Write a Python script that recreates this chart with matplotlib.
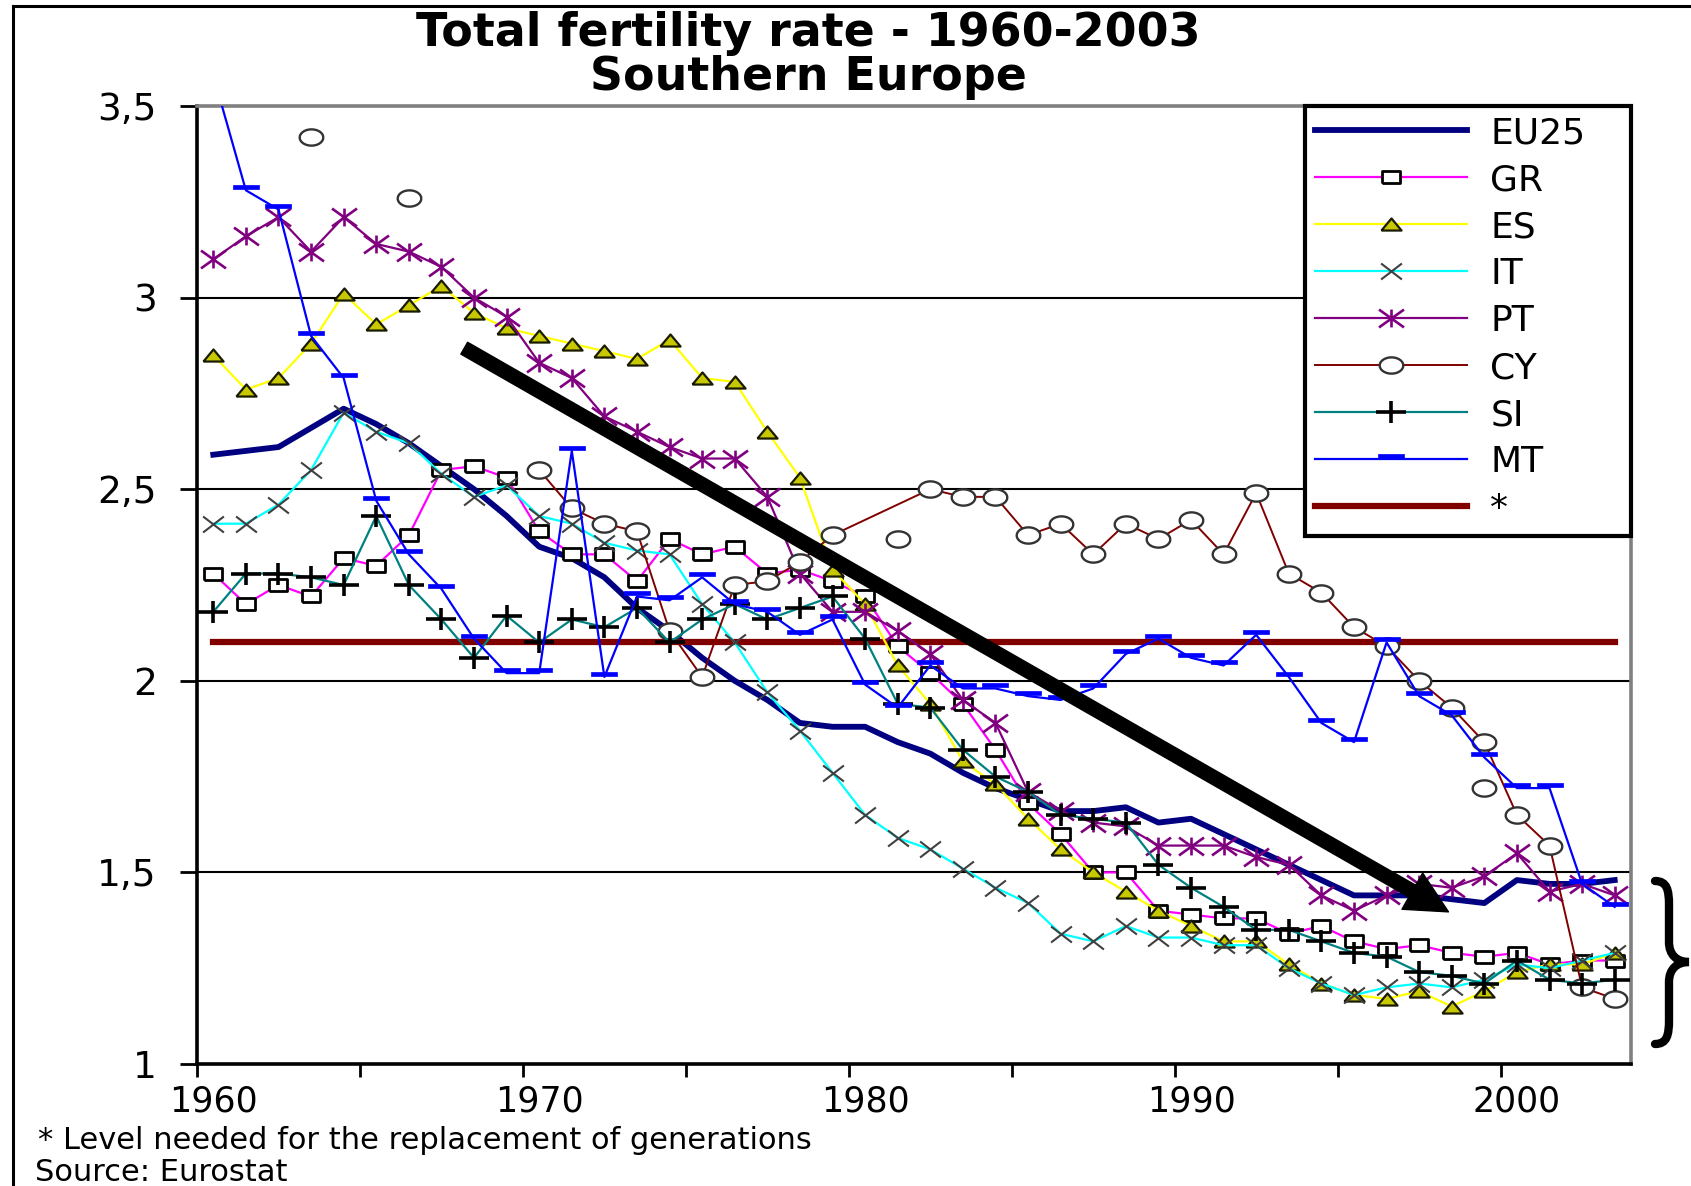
import matplotlib.pyplot as plt
import numpy as np
from matplotlib.path import Path
from matplotlib.patches import PathPatch
from matplotlib.lines import Line2D

plt.rcParams['font.family'] = ['DejaVu Sans']

# total fertility rate, 1960-2003
years = np.arange(1960, 2004)

eu25 = [2.59, 2.60, 2.61, 2.66, 2.71, 2.67, 2.62, 2.56, 2.50, 2.43,
        2.35, 2.32, 2.27, 2.19, 2.13, 2.06, 2.00, 1.95, 1.89, 1.88,
        1.88, 1.84, 1.81, 1.76, 1.72, 1.69, 1.66, 1.66, 1.67, 1.63,
        1.64, 1.60, 1.56, 1.52, 1.48, 1.44, 1.44, 1.44, 1.43, 1.42,
        1.48, 1.47, 1.47, 1.48]
gr = [2.28, 2.20, 2.25, 2.22, 2.32, 2.30, 2.38, 2.55, 2.56, 2.53,
      2.39, 2.33, 2.33, 2.26, 2.37, 2.33, 2.35, 2.28, 2.29, 2.26,
      2.22, 2.09, 2.02, 1.94, 1.82, 1.68, 1.60, 1.50, 1.50, 1.40,
      1.39, 1.38, 1.38, 1.34, 1.36, 1.32, 1.30, 1.31, 1.29, 1.28,
      1.29, 1.26, 1.27, 1.27]
es = [2.85, 2.76, 2.79, 2.88, 3.01, 2.93, 2.98, 3.03, 2.96, 2.92,
      2.90, 2.88, 2.86, 2.84, 2.89, 2.79, 2.78, 2.65, 2.53, 2.29,
      2.20, 2.04, 1.94, 1.79, 1.73, 1.64, 1.56, 1.50, 1.45, 1.40,
      1.36, 1.32, 1.32, 1.26, 1.21, 1.18, 1.17, 1.19, 1.15, 1.19,
      1.24, 1.26, 1.26, 1.29]
it = [2.41, 2.41, 2.46, 2.55, 2.70, 2.65, 2.62, 2.54, 2.48, 2.51,
      2.43, 2.41, 2.36, 2.34, 2.33, 2.20, 2.10, 1.97, 1.87, 1.76,
      1.65, 1.59, 1.56, 1.51, 1.46, 1.42, 1.34, 1.32, 1.36, 1.33,
      1.33, 1.31, 1.31, 1.25, 1.21, 1.18, 1.20, 1.21, 1.20, 1.22,
      1.26, 1.25, 1.27, 1.29]
pt = [3.10, 3.16, 3.21, 3.12, 3.21, 3.14, 3.12, 3.08, 3.00, 2.95,
      2.83, 2.79, 2.69, 2.65, 2.61, 2.58, 2.58, 2.48, 2.28, 2.18,
      2.18, 2.13, 2.07, 1.95, 1.89, 1.71, 1.66, 1.63, 1.62, 1.57,
      1.57, 1.57, 1.54, 1.52, 1.44, 1.40, 1.44, 1.47, 1.46, 1.49,
      1.55, 1.45, 1.47, 1.44]
nan = np.nan
cy = [nan, nan, nan, nan, nan, nan, nan, nan, nan, nan,
      2.55, 2.45, 2.41, 2.39, 2.13, 2.01, 2.25, 2.26, 2.31, 2.38,
      nan, nan, 2.50, 2.48, 2.48, 2.38, 2.41, 2.33, 2.41, 2.37,
      2.42, 2.33, 2.49, 2.28, 2.23, 2.14, 2.09, 2.00, 1.93, 1.84,
      1.65, 1.57, 1.20, 1.17]
# CY points shown without a connecting line
cy_single_years = [1963, 1966, 1981, 1999]
cy_single = [3.42, 3.26, 2.37, 1.72]
si = [2.18, 2.28, 2.28, 2.27, 2.25, 2.43, 2.25, 2.16, 2.06, 2.17,
      2.10, 2.16, 2.14, 2.19, 2.10, 2.16, 2.20, 2.16, 2.19, 2.22,
      2.11, 1.94, 1.93, 1.82, 1.75, 1.71, 1.65, 1.64, 1.63, 1.52,
      1.46, 1.41, 1.35, 1.35, 1.32, 1.29, 1.28, 1.24, 1.23, 1.21,
      1.27, 1.22, 1.21, 1.22]
mt = [3.58, 3.28, 3.23, 2.90, 2.79, 2.47, 2.33, 2.24, 2.11, 2.02,
      2.02, 2.60, 2.01, 2.22, 2.21, 2.27, 2.20, 2.18, 2.12, 2.16,
      1.99, 1.93, 2.04, 1.98, 1.98, 1.96, 1.95, 1.98, 2.07, 2.11,
      2.06, 2.04, 2.12, 2.01, 1.89, 1.84, 2.10, 1.96, 1.91, 1.80,
      1.72, 1.72, 1.47, 1.41]
replacement_level = 2.1

y_ticks = [1, 1.5, 2, 2.5, 3, 3.5]
y_labels = ['1', '1,5', '2', '2,5', '3', '3,5']
x_label_years = [1960, 1970, 1980, 1990, 2000]

# marker shapes
M, L = Path.MOVETO, Path.LINETO
rect_marker = [(-1, -0.6), (1, -0.6), (1, 0.6), (-1, 0.6), (-1, -0.6)]
tri_marker = [(-1, -0.6), (1, -0.6), (0, 0.6), (-1, -0.6)]
t = np.linspace(0, 2 * np.pi, 40)
ell_marker = np.column_stack([1.45 * np.cos(t), np.sin(t)])
x_marker = Path([(-1.3, -1), (1.3, 1), (-1.3, 1), (1.3, -1)], [M, L, M, L])
star_marker = Path([(0, -1), (0, 1), (-1.4, -1), (1.4, 1), (-1.4, 1), (1.4, -1)],
                   [M, L, M, L, M, L])
plus_marker = Path([(-1.4, 0), (1.4, 0), (0, -1), (0, 1)], [M, L, M, L])
dash_marker = [(-1, 0.1), (1, 0.1), (1, 0.4), (-1, 0.4), (-1, 0.1)]

W, H = 1691, 1186
fig = plt.figure(figsize=(W / 100, H / 100), dpi=100)
ax = fig.add_axes([197 / W, 1 - 1064 / H, (1631 - 197) / W, (1064 - 106) / H])

ax.plot(years, eu25, color='#000080', lw=4.2, label='EU25', zorder=3)
ax.plot(years, gr, color='#FF00FF', lw=1.6, marker=rect_marker, ms=13.5,
        mfc='white', mec='black', mew=2, label='GR', zorder=4)
ax.plot(years, es, color='#FFFF00', lw=1.6, marker=tri_marker, ms=14.5,
        mfc='#C8C800', mec='#1A1A00', mew=1.6, label='ES', zorder=4)
ax.plot(years, it, color='#00FFFF', lw=1.6, marker=x_marker, ms=15,
        mfc='none', mec='#404040', mew=1.5, label='IT', zorder=4)
ax.plot(years, pt, color='#800080', lw=1.6, marker=star_marker, ms=18,
        mfc='none', mec='#800080', mew=1.9, label='PT', zorder=4)
cy_arr = np.array(cy)
ok = ~np.isnan(cy_arr)
ax.plot(years[ok], cy_arr[ok], color='#800000', lw=1.4, marker=ell_marker, ms=17,
        mfc='white', mec='#333333', mew=1.7, label='CY', zorder=4)
ax.plot(cy_single_years, cy_single, ls='none', marker=ell_marker, ms=17,
        mfc='white', mec='#333333', mew=1.7, zorder=4)
ax.plot(years, si, color='#008080', lw=1.6, marker=plus_marker, ms=22,
        mfc='none', mec='black', mew=2.6, label='SI', zorder=4)
ax.plot(years, mt, color='#0000FF', lw=1.6, marker=dash_marker, ms=19,
        mfc='#0000FF', mec='#0000FF', mew=0.5, label='MT', zorder=4)
ax.plot([years[0], years[-1]], [replacement_level, replacement_level],
        color='#800000', lw=4.5, label='*', zorder=3.5)

ax.set_xlim(1959.5, 2003.5)
ax.set_ylim(1, 3.5)

# axes frame and grid
for side in ['left', 'bottom']:
    ax.spines[side].set_color('black')
    ax.spines[side].set_linewidth(2.6)
for side in ['top', 'right']:
    ax.spines[side].set_color('#808080')
    ax.spines[side].set_linewidth(2.6)
for yv in y_ticks[1:-1]:
    ax.axhline(yv, color='black', lw=1.5, zorder=1)

ax.set_yticks(y_ticks)
ax.set_yticklabels(y_labels)
ax.tick_params(axis='y', direction='out', length=12, width=2, pad=17,
               labelsize=27)
ax.set_xticks(np.arange(1959.5, 2004, 5))
ax.set_xticklabels([])
ax.tick_params(axis='x', which='major', direction='out', length=9, width=2)
ax.set_xticks(x_label_years, minor=True)
ax.set_xticklabels([str(y) for y in x_label_years], minor=True)
ax.tick_params(axis='x', which='minor', length=0, pad=15, labelsize=25)

leg = ax.legend(loc='upper left', bbox_to_anchor=(0.7727, 1.0, 0.2273, 0),
                mode='expand', borderaxespad=0, fontsize=26, numpoints=1,
                handlelength=4.2, handletextpad=0.65, labelspacing=0.36,
                borderpad=0.28, fancybox=False, framealpha=1, edgecolor='black')
leg.get_frame().set_linewidth(3)
leg.set_zorder(6)

# trend arrow
ax.annotate('', xy=(1997.9, 1.397), xytext=(1967.7, 2.868),
            arrowprops=dict(arrowstyle='simple,head_length=1.5,head_width=1.5,tail_width=0.49',
                            mutation_scale=20, color='black', shrinkA=0, shrinkB=0),
            zorder=8)

# brace next to the lowest values
C4 = Path.CURVE4
pts = [(1655, 881), (1667, 881), (1669, 890), (1669, 905),
       (1669, 942),
       (1669, 955), (1677, 962), (1689, 962),
       (1677, 962), (1669, 969), (1669, 982),
       (1669, 1020),
       (1669, 1035), (1667, 1044), (1655, 1044)]
codes = [M, C4, C4, C4, L, C4, C4, C4, C4, C4, C4, L, C4, C4, C4]
brace = Path([(x / W, 1 - y / H) for x, y in pts], codes)
fig.patches.append(PathPatch(brace, transform=fig.transFigure, fill=False,
                             lw=6, edgecolor='black', capstyle='round'))

# outer frame
fig.add_artist(Line2D([13 / W, 1], [1 - 6 / H, 1 - 6 / H], color='black', lw=2.2))
fig.add_artist(Line2D([13 / W, 13 / W], [0, 1 - 6 / H], color='black', lw=2.2))

fig.text(0.478, 1 - 33 / H, 'Total fertility rate - 1960-2003', ha='center',
         va='center', fontsize=33, fontweight='bold')
fig.text(0.478, 1 - 78 / H, 'Southern Europe', ha='center', va='center',
         fontsize=33, fontweight='bold')
fig.text(38 / W, 1 - 1149 / H, '* Level needed for the replacement of generations',
         ha='left', va='baseline', fontsize=22)
fig.text(35 / W, 1 - 1181 / H, 'Source: Eurostat', ha='left', va='baseline',
         fontsize=22)

fig.savefig('out.png', dpi=100)
